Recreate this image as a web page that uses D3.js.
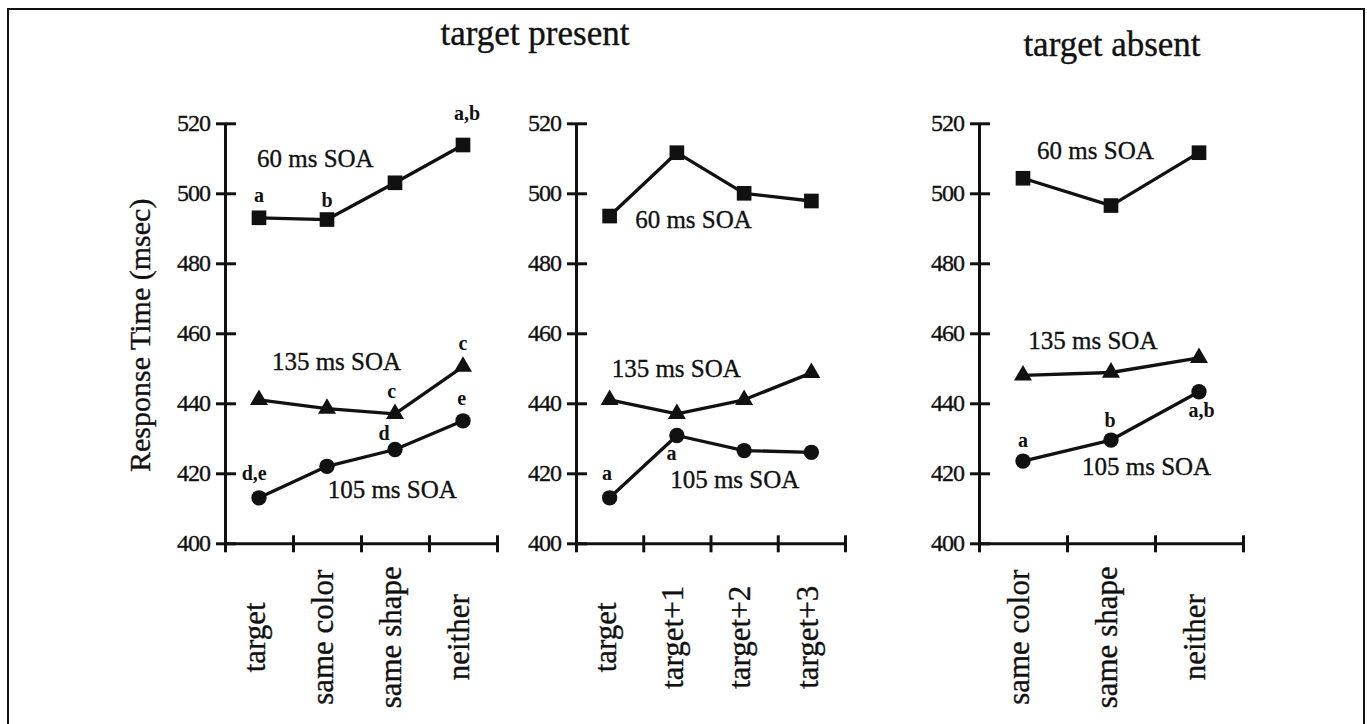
<!DOCTYPE html>
<html>
<head>
<meta charset="utf-8">
<script src="https://cdn.jsdelivr.net/npm/d3@7"></script>
<style>
  html, body { margin: 0; padding: 0; background: #fff; }
  svg { display: block; }
  text { font-family: "Liberation Serif", "Times New Roman", serif; fill: #111; stroke: #111; stroke-width: 0.35px; }
</style>
</head>
<body>
<svg id="chart" width="1367" height="724"></svg>
<script>
// ---------- data ----------
const yTicks = [400, 420, 440, 460, 480, 500, 520];

const p1Categories = ["target", "same color", "same shape", "neither"];
const p1Soa60  = [493.0, 492.5, 503.0, 513.8];
const p1Soa135 = [441.0, 438.5, 437.0, 450.5];
const p1Soa105 = [413.0, 422.0, 426.8, 435.0];

const p2Categories = ["target", "target+1", "target+2", "target+3"];
const p2Soa60  = [493.5, 511.6, 500.0, 497.8];
const p2Soa135 = [441.0, 437.0, 441.0, 448.7];
const p2Soa105 = [413.0, 430.8, 426.5, 426.0];

const p3Categories = ["same color", "same shape", "neither"];
const p3Soa60  = [504.3, 496.5, 511.6];
const p3Soa135 = [448.0, 448.8, 453.0];
const p3Soa105 = [423.5, 429.5, 443.3];

const seriesNames = ["60 ms SOA", "135 ms SOA", "105 ms SOA"];
const titles = ["target present", "target absent"];
const yLabel = "Response Time (msec)";

// letter annotations: [text, category index, value]
const p1Notes = [["a",0,497.6],["b",1,496.2],["a,b",3.06,520.9],["c",3,455.2],["c",1.95,441.5],["e",2.98,439.5],["d",1.84,429.5],["d,e",-0.07,418.1]];
const p2Notes = [["a",-0.04,418.1],["a",0.92,423.8]];
const p3Notes = [["a",0,427.6],["b",0.99,433.3],["a,b",2.03,436.2]];

// series-label anchors: [category index, value] per series (60, 135, 105)
const p1LabelPos = [[-0.03,507.6],[0.19,449.5],[1.01,412.9]];
const p2LabelPos = [[0.38,490.0],[0.03,447.6],[0.90,415.7]];
const p3LabelPos = [[0.16,509.8],[0.06,455.5],[0.67,419.5]];

// ---------- layout ----------
const svg = d3.select("#chart");
const ink = "#111";

// frame (left, top, right edges)
svg.append("path")
  .attr("d", "M8,730 L8,9 L1364,9 L1364,730")
  .attr("fill", "none").attr("stroke", ink).attr("stroke-width", 2);

const y = d3.scaleLinear().domain([400, 520]).range([543.3, 123.3]);

const panels = [
  {range: [225, 497], cats: p1Categories, series: [p1Soa60, p1Soa135, p1Soa105], notes: p1Notes, labelPos: p1LabelPos},
  {range: [576, 845], cats: p2Categories, series: [p2Soa60, p2Soa135, p2Soa105], notes: p2Notes, labelPos: p2LabelPos},
  {range: [979, 1243], cats: p3Categories, series: [p3Soa60, p3Soa135, p3Soa105], notes: p3Notes, labelPos: p3LabelPos}
];

const symbols = [
  d3.symbol().type(d3.symbolSquare).size(215),
  d3.symbol().type(d3.symbolTriangle).size(140),
  d3.symbol().type(d3.symbolCircle).size(185)
];

panels.forEach(p => {
  const x = d3.scaleBand().domain(p.cats).range(p.range).paddingInner(0).paddingOuter(0);
  const xIdx = i => p.range[0] + (i + 0.5) * x.step();
  const g = svg.append("g");

  // y axis
  const ya = g.append("g").attr("transform", `translate(${p.range[0]},0)`)
    .call(d3.axisLeft(y).tickValues(yTicks).tickFormat(d3.format("d")).tickSizeOuter(0));
  ya.select(".domain").attr("stroke", ink).attr("stroke-width", 3);
  ya.selectAll(".tick line").attr("x1", -9).attr("x2", 11).attr("stroke", ink).attr("stroke-width", 3);
  ya.selectAll(".tick text").attr("x", -15).attr("dy", "0.3em")
    .style("font-family", '"Liberation Serif", serif').style("font-size", "24px")
    .style("letter-spacing", "-1px").attr("fill", ink);

  // x axis: boundary ticks
  const xb = d3.scaleLinear().domain([0, p.cats.length]).range(p.range);
  const xa = g.append("g").attr("transform", `translate(0,${y(400)})`)
    .call(d3.axisBottom(xb).tickValues(d3.range(p.cats.length + 1)).tickFormat("").tickSizeOuter(0));
  xa.select(".domain").attr("stroke", ink).attr("stroke-width", 3);
  xa.selectAll(".tick line").attr("y1", -8).attr("y2", 9).attr("stroke", ink).attr("stroke-width", 3);

  // category labels (rotated)
  const xl = g.append("g").attr("transform", `translate(0,${y(400)})`)
    .call(d3.axisBottom(x).tickSize(0).tickSizeOuter(0));
  xl.select(".domain").remove();
  xl.selectAll(".tick text")
    .attr("transform", "translate(0,94) rotate(-90)")
    .attr("x", 0).attr("y", 0).attr("dy", "0.2em")
    .attr("text-anchor", "middle")
    .style("font-family", '"Liberation Serif", serif').style("font-size", "31px").attr("fill", ink);

  // series
  const line = d3.line().x((d, i) => x(p.cats[i]) + x.bandwidth() / 2).y(d => y(d));
  p.series.forEach((vals, si) => {
    g.append("path").datum(vals).attr("d", line)
      .attr("fill", "none").attr("stroke", ink).attr("stroke-width", 3.3).attr("stroke-linejoin", "round");
    g.selectAll(null).data(vals).enter().append("path")
      .attr("d", symbols[si])
      .attr("transform", (d, i) => `translate(${x(p.cats[i]) + x.bandwidth() / 2},${y(d)})`)
      .attr("fill", ink);
    const lp = p.labelPos[si];
    g.append("text").attr("x", xIdx(lp[0])).attr("y", y(lp[1]))
      .style("font-size", "25px").text(seriesNames[si]);
  });

  // annotation letters
  g.selectAll(null).data(p.notes).enter().append("text")
    .attr("x", d => xIdx(d[1])).attr("y", d => y(d[2]))
    .attr("text-anchor", "middle")
    .style("font-size", "20px").style("font-weight", "700").style("stroke-width", "0px")
    .text(d => d[0]);
});

// titles
svg.append("text").attr("x", (panels[0].range[0] + panels[1].range[1]) / 2).attr("y", 45)
  .attr("text-anchor", "middle").style("font-size", "35px").text(titles[0]);
svg.append("text").attr("x", 1112).attr("y", 56)
  .attr("text-anchor", "middle").style("font-size", "35px").text(titles[1]);

// y label
svg.append("text").attr("transform", `translate(150,${(y(400) + y(520)) / 2 + 2}) rotate(-90)`)
  .attr("text-anchor", "middle").style("font-size", "30px").text(yLabel);
</script>
</body>
</html>
